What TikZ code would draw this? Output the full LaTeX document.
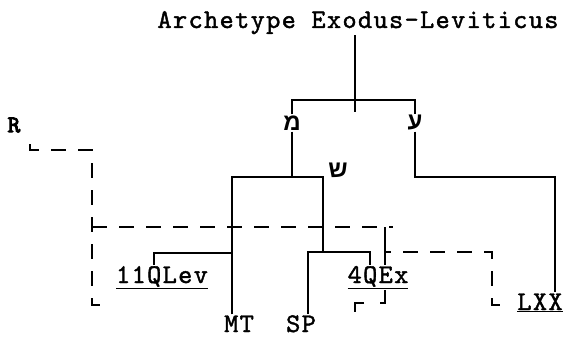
\documentclass[tikz,border=0pt]{standalone}
\usepackage{fontspec}
\newfontfamily\hebfont[Script=Hebrew]{Liberation Sans}
\newfontfamily\typew{lmmono10-regular}[Extension=.otf, LetterSpace=5, FakeBold=1.5]
\newfontfamily\typewbold{lmmono10-regular}[Extension=.otf, FakeBold=4]
\TeXXeTstate=1

\begin{document}
\begin{tikzpicture}[x=1pt,y=-1pt,
  tree/.style={line width=1.1pt},
  recline/.style={line width=1.1pt, dash pattern=on 15pt off 12pt},
  wit/.style={font=\typew\fontsize{27}{29}\selectfont, inner sep=1pt},
  heb/.style={font=\hebfont\bfseries\fontsize{24}{26}\selectfont, inner sep=1pt}]
\useasboundingbox (0,0) rectangle (564,337);
\node[wit, anchor=base] (arch) at (358,28) {Archetype Exodus-Leviticus};
\node[heb] (mem) at (292,123) {\beginR מ\endR};
\node[heb] (ayin) at (415,123) {\beginR ע\endR};
\node[heb] (shin) at (338,170) {\beginR ש\endR};
\node[font=\typewbold\fontsize{24}{26}\selectfont, inner sep=1pt] (rec) at (14,125) {R};
\node[wit, anchor=base] (lev) at (162,283) {\underline{11QLev}};
\node[wit, anchor=base] (mt) at (239,332) {MT};
\node[wit, anchor=base] (sp) at (301,332) {SP};
\node[wit, anchor=base] (qex) at (378,283) {\underline{4QEx}};
\node[wit, anchor=base] (lxx) at (540,310) {\underline{LXX}};
\coordinate (bar) at (355,100);
\coordinate (barend) at (355,112);
\coordinate (mj) at (292,177);
\coordinate (left) at (232,177);
\coordinate (sj) at (323,177);
\coordinate (sjb) at (323,252);
\coordinate (spx) at (308,252);
\coordinate (qx) at (370,252);
\coordinate (levj) at (232,253);
\coordinate (levx) at (154,253);
\coordinate (aj) at (555,177);
\draw[tree] (arch.south -| bar) -- (barend);
\draw[tree] (mem.north) |- (bar) -| (ayin.north);
\draw[tree] (mem.south) -- (mj);
\draw[tree] (mt.north -| left) |- (sj) -- (sjb);
\draw[tree] (levx |- lev.north) -- (levx) -- (levj);
\draw[tree] (sp.north -| spx) -- (spx) -- (qx) -- (qx |- qex.north);
\draw[tree] (ayin.south) |- (aj) -- (aj |- lxx.north);
\coordinate (r1) at (30,138);
\coordinate (r2) at (30,150);
\coordinate (r3) at (92,150);
\coordinate (r4) at (92,305);
\coordinate (r5) at (100,305);
\coordinate (t1) at (92,227);
\coordinate (t2) at (393,227);
\coordinate (t3) at (385,227);
\coordinate (t4) at (385,252);
\coordinate (t5) at (492,252);
\coordinate (t6) at (492,305);
\coordinate (t7) at (500,305);
\coordinate (t8) at (385,303);
\coordinate (t9) at (355,303);
\coordinate (t10) at (355,318);
\draw[recline, dash phase=21pt] (r1) -- (r2) -- (r3) -- (r4) -- (r5);
\draw[recline] (t1) -- (t2);
\draw[tree] (t3) -- (t3 |- qex.north);
\draw[recline, dash pattern=on 18pt off 16pt] (t3 |- qex.south) -- (t8) -- (t9) -- (t10);
\draw[recline, dash phase=9pt] (t4) -- (t5) -- (t6) -- (t7);
\end{tikzpicture}
\end{document}
